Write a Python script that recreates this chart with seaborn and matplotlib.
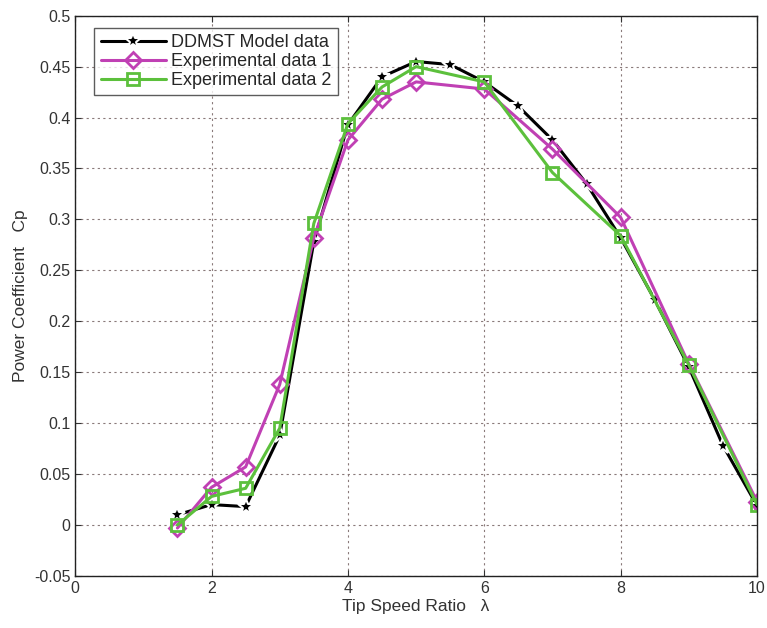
import numpy as np
import pandas as pd
import matplotlib
matplotlib.use("Agg")
import matplotlib.pyplot as plt
import seaborn as sns

# tip speed ratio values
tsr_model = [1.5, 2, 2.5, 3, 3.5, 4, 4.5, 5, 5.5, 6, 6.5, 7, 7.5, 8, 8.5, 9, 9.5, 10]
cp_model = [0.010, 0.020, 0.018, 0.088, 0.278, 0.393, 0.440, 0.455, 0.452, 0.435,
            0.411, 0.378, 0.335, 0.282, 0.221, 0.155, 0.078, 0.019]

tsr_exp = [1.5, 2, 2.5, 3, 3.5, 4, 4.5, 5, 6, 7, 8, 9, 10]
cp_exp1 = [-0.003, 0.037, 0.057, 0.138, 0.282, 0.378, 0.418, 0.435, 0.428, 0.369,
           0.302, 0.158, 0.023]
cp_exp2 = [0.000, 0.028, 0.036, 0.095, 0.296, 0.394, 0.430, 0.450, 0.435, 0.346,
           0.284, 0.157, 0.020]

sns.set_style("white")
plt.rcParams["font.family"] = ["Liberation Sans", "DejaVu Sans"]

fig = plt.figure(figsize=(7.67, 6.28), dpi=100)
ax = fig.add_axes([0.098, 0.083, 0.889, 0.892])

sns.lineplot(x=tsr_model, y=cp_model, ax=ax, color="black", linewidth=2.2,
             marker="*", markersize=12, markeredgewidth=1.5,
             label="DDMST Model data")
sns.lineplot(x=tsr_exp, y=cp_exp1, ax=ax, color="#c040b4", linewidth=2.2,
             marker="D", markersize=8.5, markerfacecolor="none",
             markeredgecolor="#c040b4", markeredgewidth=2,
             label="Experimental data 1")
sns.lineplot(x=tsr_exp, y=cp_exp2, ax=ax, color="#5cc03c", linewidth=2.2,
             marker="s", markersize=8.5, markerfacecolor="none",
             markeredgecolor="#5cc03c", markeredgewidth=2,
             label="Experimental data 2")

ax.set_xlim(0, 10)
ax.set_ylim(-0.05, 0.5)
ax.set_xticks([0, 2, 4, 6, 8, 10])
yt = np.round(np.arange(-0.05, 0.501, 0.05), 2)
ax.set_yticks(yt)
ax.set_yticklabels([f"{v:g}" for v in yt])
ax.grid(True, color="#8a7a7a", linestyle=(0, (2, 3)), linewidth=0.8)
ax.tick_params(direction="in", length=4, labelsize=11.5, colors="#333333",
               top=True, right=True, bottom=True, left=True)
for sp in ax.spines.values():
    sp.set_color("#222222")
    sp.set_linewidth(1.0)

ax.set_xlabel("Tip Speed Ratio   λ", fontsize=12.5, color="#333333", labelpad=2)
ax.set_ylabel("Power Coefficient   Cp", fontsize=12.5, color="#333333")

leg = ax.legend(loc="upper left", bbox_to_anchor=(0.028, 0.978), fontsize=13,
                frameon=True, fancybox=False, handlelength=3.6,
                borderpad=0.35, labelspacing=0.1, handletextpad=0.3,
                borderaxespad=0.0)
leg.get_frame().set_edgecolor("#333333")
leg.get_frame().set_linewidth(1.0)

fig.savefig("out.png", dpi=100)
